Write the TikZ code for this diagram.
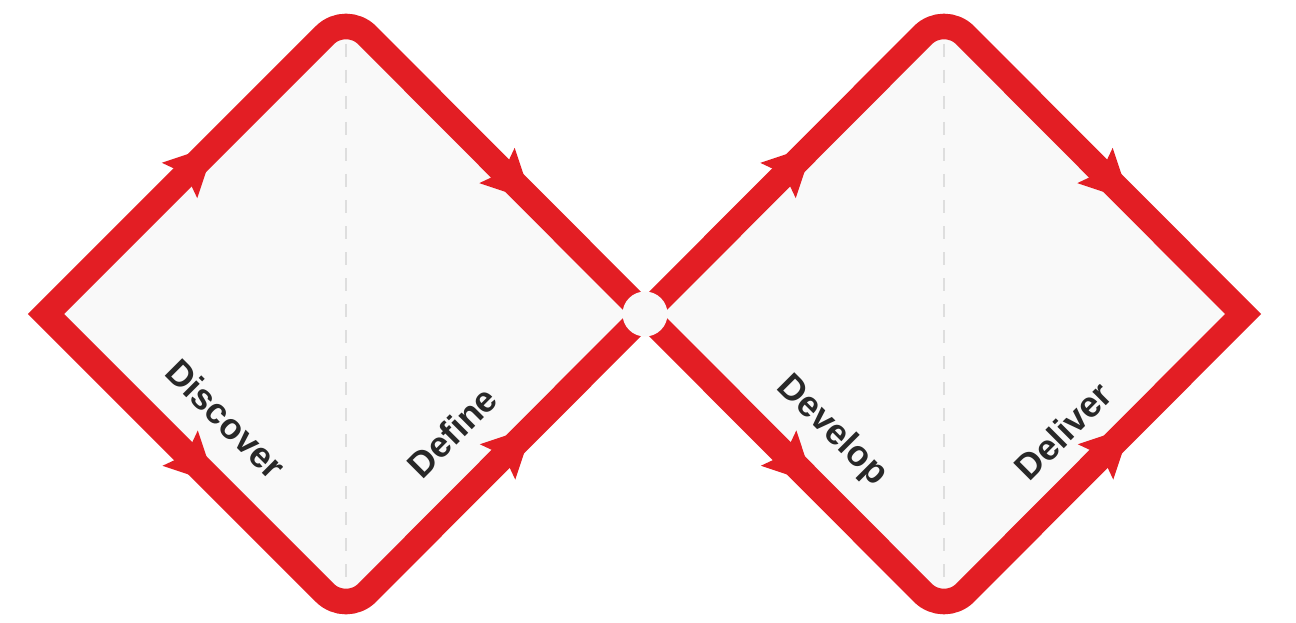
\documentclass[tikz,border=0pt]{standalone}
\usepackage{fontspec}
\setmainfont{Liberation Sans}
\usetikzlibrary{decorations.markings}
\definecolor{ddred}{RGB}{227,30,36}
\definecolor{ddfill}{RGB}{249,249,249}
\definecolor{dddash}{RGB}{222,222,222}
\definecolor{ddtext}{RGB}{40,40,40}
\tikzset{
  outline/.style={draw=ddred, line width=25.5pt, line join=miter},
  divider/.style={draw=dddash, line width=1.6pt, dash pattern=on 13pt off 13pt},
  arrowmark/.style={postaction={decorate}, decoration={markings,
     mark=at position #1 with {\fill[ddred] (0pt,0pt) -- (-50pt,25pt) -- (-41pt,0pt) -- (-50pt,-25pt) -- cycle;}}},
  phase/.style={text=ddtext, font=\bfseries\fontsize{36}{42}\selectfont, inner sep=0pt},
  hub/.style={circle, fill=ddfill, minimum size=45pt, inner sep=0pt}
}
\begin{document}
\begin{tikzpicture}[x=1pt,y=-1pt]
\useasboundingbox[fill=white] (0,0) rectangle (1296,623);
% vertices
\coordinate (L1) at (46,314);
\coordinate (T1) at (346,14);
\coordinate (B1) at (346,614);
\coordinate (C)  at (645,314);
\coordinate (T2) at (944,14);
\coordinate (B2) at (944,614);
\coordinate (R2) at (1243,314);
\coordinate (D1t) at (346,44);
\coordinate (D1b) at (346,586);
\coordinate (D2t) at (944,44);
\coordinate (D2b) at (944,586);
% fills
\fill[ddfill] (L1) [rounded corners=30pt] -- (T1) [sharp corners] -- (C) [rounded corners=30pt] -- (B1) [sharp corners] -- cycle;
\fill[ddfill] (C) [rounded corners=30pt] -- (T2) [sharp corners] -- (R2) [rounded corners=30pt] -- (B2) [sharp corners] -- cycle;
% dividers
\draw[divider] (D1t) -- (D1b);
\draw[divider] (D2t) -- (D2b);
% outlines
\draw[outline] (L1) [rounded corners=30pt] -- (T1) [sharp corners] -- (C) [rounded corners=30pt] -- (B1) [sharp corners] -- cycle;
\draw[outline] (C) [rounded corners=30pt] -- (T2) [sharp corners] -- (R2) [rounded corners=30pt] -- (B2) [sharp corners] -- cycle;
% arrows
\path[arrowmark=0.563] (L1) -- (T1);
\path[arrowmark=0.565] (L1) -- (B1);
\path[arrowmark=0.623] (T1) -- (C);
\path[arrowmark=0.625] (B1) -- (C);
\path[arrowmark=0.563] (C) -- (T2);
\path[arrowmark=0.565] (C) -- (B2);
\path[arrowmark=0.623] (T2) -- (R2);
\path[arrowmark=0.625] (B2) -- (R2);
% hub
\node[hub] (hub) at (C) {};
% labels
\node[phase, rotate=-45] (discover) at (226,419) {Discover};
\node[phase, rotate=45] (define) at (452,432) {Define};
\node[phase, rotate=-45] (develop) at (832,431) {Develop};
\node[phase, rotate=45] (deliver) at (1063,431) {Deliver};
\end{tikzpicture}
\end{document}
